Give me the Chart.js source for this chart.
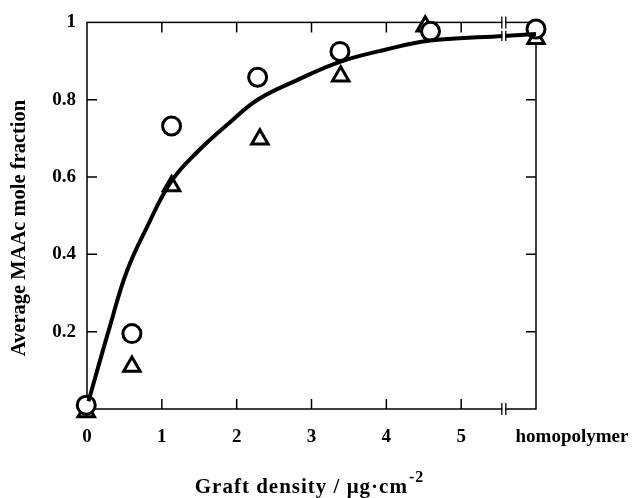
<!DOCTYPE html>
<html>
<head>
<meta charset="utf-8">
<script src="https://cdn.jsdelivr.net/npm/chart.js@4.4.0/dist/chart.umd.min.js"></script>
<style>
  html, body { margin: 0; padding: 0; background: #fff; }
  #wrap { width: 633px; height: 498px; position: relative; }
</style>
</head>
<body>
<div id="wrap"><canvas id="maacChart"></canvas></div>
<script>
// graft density in ug/cm2 ; the homopolymer sits at x = 6, after the axis break
const circleX = [-0.01, 0.6, 1.13, 2.28, 3.38, 4.59, 6.0];
const circleY = [0.01, 0.195, 0.732, 0.858, 0.925, 0.977, 0.983];
const triangleX = [-0.01, 0.6, 1.13, 2.31, 3.39, 4.52, 6.0];
const triangleY = [-0.008, 0.11, 0.577, 0.698, 0.861, 0.99, 0.958];
// fitted curve
const fitX = [0.02, 0.3, 0.53, 0.8, 1.13, 1.5, 1.9, 2.28, 2.8, 3.38, 4.0, 4.59, 5.57, 6.0];
const fitY = [0.02, 0.21, 0.355, 0.47, 0.59, 0.67, 0.74, 0.80, 0.85, 0.898, 0.93, 0.953, 0.965, 0.97];

const xTicks = [1, 2, 3, 4, 5];
const yTicks = [0.2, 0.4, 0.6, 0.8];
const breakAt = 5.57;
const homopolymerLabel = 'homopolymer';
const xTitle = 'Graft density / μg·cm';
const xTitleSup = '-2';
const yTitle = 'Average MAAc mole fraction';

const FONT = "'Liberation Serif', 'Times New Roman', serif";

const toPoints = (xs, ys) => xs.map((x, i) => ({ x: x, y: ys[i] }));

// frame, inward ticks, axis break, extra labels
const framePlugin = {
  id: 'frame',
  beforeDatasetsDraw(chart) {
    const { ctx, chartArea: a, scales: { x, y } } = chart;
    ctx.save();
    ctx.strokeStyle = '#000';
    ctx.lineWidth = 1.5;
    ctx.strokeRect(a.left, a.top, a.right - a.left, a.bottom - a.top);
    ctx.beginPath();
    xTicks.forEach(v => {
      const px = x.getPixelForValue(v);
      ctx.moveTo(px, a.bottom); ctx.lineTo(px, a.bottom - 10);
      ctx.moveTo(px, a.top); ctx.lineTo(px, a.top + 10);
    });
    yTicks.forEach(v => {
      const py = y.getPixelForValue(v);
      ctx.moveTo(a.left, py); ctx.lineTo(a.left + 10, py);
      ctx.moveTo(a.right, py); ctx.lineTo(a.right - 10, py);
    });
    ctx.stroke();
    ctx.restore();
  },
  afterDatasetsDraw(chart) {
    const { ctx, chartArea: a, scales: { x, y } } = chart;
    const bx = x.getPixelForValue(breakAt);
    const cy = y.getPixelForValue(fitY[fitX.indexOf(breakAt)]);
    ctx.save();
    const mark = (yc, half) => {
      ctx.fillStyle = '#fff';
      ctx.fillRect(bx - 1.5, yc - half + 1, 3, half * 2 - 2);
      ctx.beginPath();
      ctx.moveTo(bx - 2, yc - half); ctx.lineTo(bx - 2, yc + half);
      ctx.moveTo(bx + 2, yc - half); ctx.lineTo(bx + 2, yc + half);
      ctx.strokeStyle = '#000';
      ctx.lineWidth = 1.3;
      ctx.stroke();
    };
    mark(a.top, 6);
    mark(a.bottom, 6);
    mark(cy, 5);

    ctx.fillStyle = '#000';
    ctx.textBaseline = 'middle';
    ctx.textAlign = 'center';
    ctx.font = 'bold 19px ' + FONT;
    ctx.fillText(homopolymerLabel, 572, a.bottom + 28);

    // y title
    ctx.save();
    ctx.translate(20, 228);
    ctx.rotate(-Math.PI / 2);
    ctx.font = 'bold 20.5px ' + FONT;
    ctx.fillText(yTitle, 0, 0);
    ctx.restore();

    // x title with superscript
    ctx.letterSpacing = '1px';
    ctx.textAlign = 'left';
    ctx.textBaseline = 'alphabetic';
    ctx.font = 'bold 21px ' + FONT;
    const w1 = ctx.measureText(xTitle).width;
    ctx.font = 'bold 16px ' + FONT;
    const w2 = ctx.measureText(xTitleSup).width;
    const startX = 309 - (w1 + w2) / 2;
    ctx.font = 'bold 21px ' + FONT;
    ctx.fillText(xTitle, startX, 493);
    ctx.font = 'bold 16px ' + FONT;
    ctx.fillText(xTitleSup, startX + w1 + 1, 482);
    ctx.restore();
  }
};

new Chart(document.getElementById('maacChart'), {
  type: 'scatter',
  data: {
    datasets: [
      {
        type: 'line',
        label: 'fit',
        data: toPoints(fitX, fitY),
        borderColor: '#000',
        borderWidth: 4,
        pointRadius: 0,
        tension: 0.4,
        fill: false,
        clip: false
      },
      {
        label: 'circle',
        data: toPoints(circleX, circleY),
        pointStyle: 'circle',
        pointRadius: 9,
        borderWidth: 3,
        borderColor: '#000',
        backgroundColor: '#fff',
        clip: false
      },
      {
        label: 'triangle',
        data: toPoints(triangleX, triangleY),
        pointStyle: 'triangle',
        pointRadius: 9.5,
        borderWidth: 3,
        borderColor: '#000',
        backgroundColor: '#fff',
        clip: false
      }
    ]
  },
  options: {
    responsive: true,
    maintainAspectRatio: false,
    animation: false,
    layout: { padding: { top: 18, right: 97, left: 8, bottom: 0 } },
    plugins: {
      legend: { display: false },
      tooltip: { enabled: false }
    },
    scales: {
      x: {
        type: 'linear',
        min: 0,
        max: 6,
        grid: { display: false, drawTicks: false },
        border: { display: false },
        afterFit: s => { s.height = 89; },
        ticks: {
          stepSize: 1,
          padding: 17,
          color: '#000',
          font: { family: FONT, size: 19, weight: 'bold' },
          callback: v => (v > 5 ? '' : v)
        }
      },
      y: {
        min: 0,
        max: 1,
        grid: { display: false, drawTicks: false },
        border: { display: false },
        afterFit: s => { s.width = 79; },
        ticks: {
          stepSize: 0.2,
          padding: 11,
          color: '#000',
          font: { family: FONT, size: 19, weight: 'bold' },
          callback: v => (v === 0 ? '' : v === 1 ? '1' : v.toFixed(1))
        }
      }
    }
  },
  plugins: [framePlugin]
});
</script>
</body>
</html>
